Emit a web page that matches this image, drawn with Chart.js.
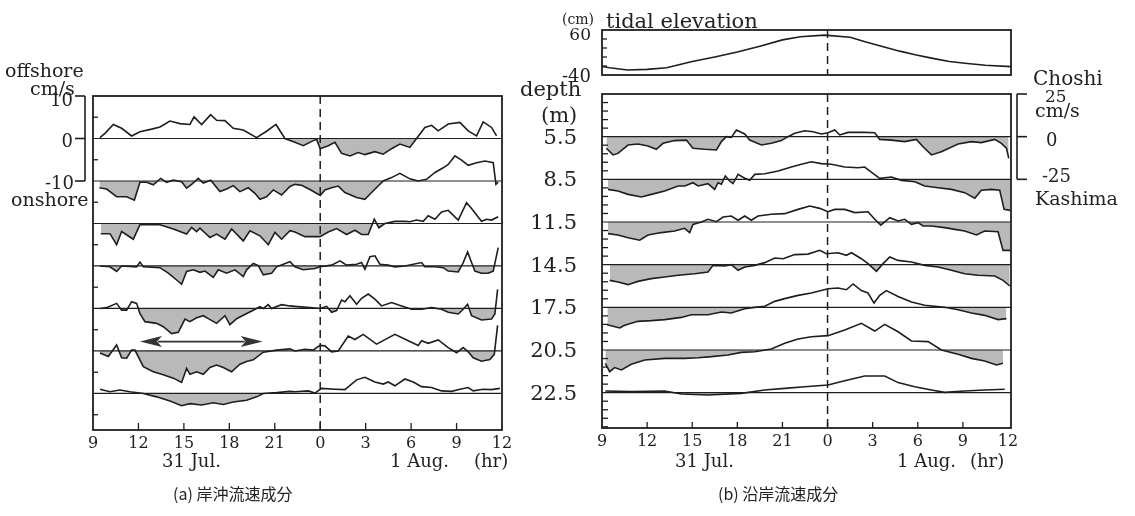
<!DOCTYPE html>
<html>
<head>
<meta charset="utf-8">
<script src="https://cdn.jsdelivr.net/npm/chart.js@4.4.1/dist/chart.umd.min.js"></script>
<style>
  html, body { margin: 0; padding: 0; background: #fff; }
  #page { position: relative; width: 1135px; height: 516px; overflow: hidden; font-family: "DejaVu Serif", serif; color: #222; }
  canvas { position: absolute; top: 0; }
  .lbl { position: absolute; white-space: nowrap; line-height: 1; transform: translateY(-50%); }
  .cap { font-family: "Noto Sans CJK JP", sans-serif; font-size: 16px; }
</style>
</head>
<body>
<div id="page">
  <canvas id="cross" width="540" height="516" style="left:0"></canvas>
  <canvas id="tide" width="595" height="100" style="left:540px"></canvas>
  <canvas id="along" width="595" height="516" style="left:540px"></canvas>
</div>
<script>
// time axis: hours from 0:00 on 31 Jul. (24 = 0:00 on 1 Aug.)
const hourTicks = [9, 12, 15, 18, 21, 24, 27, 30, 33, 36];
const midnight = 24;

// (a) cross-shore component, cm/s, [hour, value]
const cross55 = [[9.46,0.2],[9.79,1.2],[10.34,3.3],[10.89,2.4],[11.55,0.6],[12.10,1.6],[12.87,2.2],[13.42,2.7],[14.08,4.1],[14.74,3.5],[15.40,3.3],[15.67,5.1],[16.17,3.3],[16.77,5.6],[17.16,4.3],[17.71,4.2],[18.26,2.4],[18.92,2.0],[19.80,0.2],[20.46,1.7],[21.08,3.3],[21.67,0],[22.33,-0.9],[22.88,-1.7],[23.54,-0.5],[23.76,-0.2],[24.0,-2.4],[24.53,-1.7],[24.97,-0.9],[25.41,-3.5],[25.96,-4.1],[26.51,-3.3],[26.95,-3.8],[27.61,-3.1],[28.16,-3.7],[28.71,-2.4],[29.26,-1.3],[29.92,-2.1],[30.36,0],[30.91,2.6],[31.35,3.1],[31.79,1.8],[32.45,3.4],[33.22,3.8],[33.77,1.8],[34.32,0.6],[34.76,3.9],[35.31,2.6],[35.64,0.6]];
const cross85 = [[9.42,-1.6],[9.90,-1.9],[10.56,-3.7],[11.22,-3.7],[11.73,-4.5],[12.10,-0.3],[12.54,-0.3],[12.98,-0.9],[13.47,0.6],[13.86,-0.3],[14.30,0.2],[14.85,-0.2],[15.18,-1.7],[15.51,-0.8],[15.95,0.6],[16.28,-0.5],[16.77,0.2],[17.38,-2.5],[17.82,-1.9],[18.26,-1.1],[18.70,-2.5],[19.25,-1.6],[19.69,-2.9],[20.02,-4.3],[20.46,-3.7],[20.90,-2.1],[21.45,-3.3],[22.0,-1.3],[22.33,-0.8],[22.77,-1.0],[23.32,-2.0],[24.0,-3.4],[24.31,-2.1],[24.75,-1.6],[25.19,-1.2],[25.63,-2.7],[26.40,-3.9],[26.95,-4.3],[27.39,-2.7],[28.16,0],[28.71,0.8],[29.26,1.8],[29.92,0.5],[30.47,0],[31.02,0.4],[31.57,2.0],[32.12,3.1],[32.45,3.9],[32.89,5.9],[33.33,4.9],[33.77,3.7],[34.32,4.3],[34.87,4.7],[35.42,4.3],[35.60,-0.8],[35.75,-0.3]];
const cross115 = [[9.51,-2.4],[10.12,-2.4],[10.56,-5.0],[10.89,-1.9],[11.66,-3.7],[12.10,-0.3],[12.65,-0.2],[13.42,-0.3],[14.30,-1.3],[15.18,-2.5],[15.51,-0.9],[15.84,-1.9],[16.06,-1.1],[16.72,-3.3],[17.16,-2.5],[17.71,-3.7],[18.15,-1.3],[18.92,-4.1],[19.36,-1.7],[20.02,-2.9],[20.57,-5.0],[21.01,-2.1],[21.45,-3.7],[22.0,-1.7],[22.33,-2.0],[22.99,-3.1],[23.98,-3.1],[24.53,-2.0],[25.08,-1.2],[25.74,-2.6],[26.29,-1.6],[26.73,-2.6],[27.17,-2.6],[27.57,1.0],[27.87,-1.0],[28.27,0],[28.93,0.5],[29.59,0.5],[29.92,0.4],[30.36,0.8],[30.80,0.5],[31.13,1.8],[31.57,1.0],[32.01,2.7],[32.45,3.1],[33.11,0.8],[33.66,4.9],[33.99,3.5],[34.32,2.0],[34.65,0.5],[34.98,1.0],[35.31,0.8],[35.75,1.6]];
const cross145 = [[9.46,0],[10.12,-0.2],[10.56,-1.3],[10.89,0],[11.88,-0.2],[12.10,0.9],[12.32,-0.2],[13.42,-0.4],[13.97,-1.7],[14.52,-3.3],[14.85,-4.3],[15.18,-1.3],[15.62,-0.9],[16.06,-1.5],[16.39,-1.2],[16.94,-2.7],[17.27,-0.9],[17.82,-1.7],[18.37,-0.9],[18.92,-2.5],[19.14,-0.9],[19.58,0.6],[19.91,0.1],[20.24,-2.1],[20.79,-1.7],[21.12,-0.2],[22.0,1.0],[22.33,-0.2],[22.88,-0.9],[23.65,-0.6],[23.98,-0.2],[24.75,0.2],[25.30,1.2],[25.74,0.2],[26.40,0.4],[26.73,0.8],[26.95,-0.8],[27.28,2.2],[27.61,2.4],[27.94,0.4],[28.49,0.2],[28.93,-0.2],[29.59,0],[30.69,0.8],[30.91,-0.2],[31.57,-0.2],[32.12,-0.4],[32.45,-1.2],[33.11,-1.4],[33.44,0.8],[33.73,3.3],[33.99,0.8],[34.21,-1.2],[34.65,-1.7],[35.09,-1.7],[35.42,-1.2],[35.75,4.3]];
const cross175 = [[9.46,0],[9.90,0.2],[10.56,1.2],[10.89,-0.4],[11.22,-0.4],[11.55,1.6],[11.88,1.2],[12.10,-1.2],[12.43,-3.1],[13.20,-3.5],[13.64,-4.3],[14.19,-5.9],[14.63,-5.6],[15.07,-2.5],[15.40,-3.1],[15.84,-2.2],[16.28,-1.7],[16.61,-2.4],[17.16,-3.5],[17.71,-1.7],[18.04,-3.8],[18.48,-2.4],[18.92,-1.6],[19.58,-0.4],[20.02,0.4],[20.24,0],[20.57,0.9],[20.79,0],[21.45,0.9],[22.0,0.6],[22.33,0.5],[23.32,0.2],[23.98,0],[24.42,0.5],[24.75,-0.9],[25.08,-0.5],[25.41,2.0],[25.63,1.6],[25.96,3.0],[26.40,1.0],[26.73,2.4],[27.17,3.4],[27.61,2.2],[28.05,0.6],[28.71,1.4],[29.37,0.6],[30.03,-0.2],[30.69,-0.2],[31.35,0.2],[32.01,-0.2],[32.45,-0.9],[33.11,-1.3],[33.44,-0.2],[33.73,1.0],[33.99,-1.7],[34.65,-2.7],[35.31,-2.5],[35.53,-1.3],[35.71,4.5]];
const cross205 = [[9.46,-0.5],[10.01,-1.3],[10.56,1.4],[10.89,-1.6],[11.22,-1.7],[11.55,0.2],[11.77,0.2],[12.32,-3.7],[12.98,-4.9],[13.64,-5.6],[14.30,-6.4],[14.85,-7.4],[15.18,-4.1],[15.40,-5.5],[15.84,-4.9],[16.28,-5.5],[16.72,-3.9],[17.16,-3.3],[17.60,-3.9],[18.15,-4.9],[18.70,-3.1],[19.14,-2.5],[19.58,-2.1],[20.24,-0.3],[21.12,0.2],[22.0,0.5],[22.33,0],[22.99,0.4],[23.54,0.2],[23.98,1.3],[24.31,1.2],[24.75,-0.2],[25.19,0],[25.85,3.5],[26.29,2.7],[26.84,3.9],[27.72,1.6],[28.93,3.9],[29.81,2.4],[30.47,1.3],[30.69,2.4],[31.13,1.8],[31.79,2.6],[32.45,0.8],[33.0,-0.4],[33.44,0.8],[33.77,-0.2],[34.10,-1.6],[34.65,-2.4],[35.20,-2.0],[35.49,-0.8],[35.71,6.0]];
const cross225 = [[9.46,1.0],[10.12,0.4],[10.78,0.8],[11.44,0.4],[12.32,0],[13.20,-0.8],[14.08,-1.8],[14.85,-2.9],[15.40,-2.4],[16.17,-2.7],[16.94,-2.2],[17.60,-2.6],[18.26,-2.0],[19.14,-1.6],[19.80,-0.8],[20.24,0],[21.12,0.2],[22.0,0.5],[22.33,0.4],[23.21,0.6],[23.65,0.1],[24.09,1.2],[24.97,1.0],[25.63,0.9],[26.40,3.2],[26.95,3.8],[27.61,2.7],[28.16,2.2],[28.49,2.7],[28.93,1.8],[29.59,3.4],[30.14,2.7],[30.69,1.6],[31.35,1.4],[32.01,0.6],[32.67,0.5],[33.22,1.0],[33.77,1.4],[34.10,0.6],[34.76,1.0],[35.31,0.9],[35.86,1.2]];

// (b) along-shore component, cm/s (+ = toward Choshi)
const along55 = [[9.29,-6.8],[9.73,-10.7],[10.06,-9.8],[10.73,-4.9],[11.39,-4.3],[12.06,-5.5],[12.61,-7.4],[13.06,-3.9],[13.83,-2.3],[14.61,-2.0],[15.05,-6.8],[15.83,-7.4],[16.61,-7.8],[16.94,-2.9],[17.27,0],[17.60,-0.4],[17.94,3.9],[18.49,1.6],[18.82,-2.0],[19.60,-4.9],[20.26,-3.9],[20.93,-2.3],[21.37,0],[21.82,2.0],[22.48,3.5],[23.04,2.9],[23.59,1.6],[24.03,2.3],[24.48,3.9],[24.81,1.0],[25.36,2.5],[26.47,2.5],[27.14,2.3],[27.47,-1.6],[28.25,-2.0],[29.13,-2.9],[29.91,-1.6],[30.35,-5.9],[30.91,-10.7],[31.57,-8.8],[32.68,-4.3],[33.57,-2.9],[34.23,-3.5],[35.12,-1.6],[35.56,-3.9],[35.90,-6.8],[36.05,-12.7]];
const along85 = [[9.40,-5.9],[10.06,-6.8],[10.73,-8.8],[11.62,-10.3],[12.28,-8.8],[13.17,-6.8],[14.06,-3.9],[14.50,-3.9],[15.05,-2.0],[15.39,-3.9],[16.05,-2.5],[16.49,-5.9],[16.72,-2.0],[16.94,-2.9],[17.20,2.0],[17.49,-1.0],[17.71,-2.5],[18.05,2.9],[18.49,0.6],[18.82,-0.6],[19.16,2.9],[19.82,3.3],[20.71,4.9],[21.59,7.2],[22.26,8.8],[22.92,10.3],[23.59,9.2],[24.25,8.8],[25.14,7.2],[26.03,6.8],[26.47,7.2],[26.80,4.9],[27.47,0.6],[28.25,1.4],[28.91,-0.6],[29.80,-1.4],[30.46,-3.9],[31.35,-4.9],[32.24,-5.9],[33.12,-7.8],[33.79,-11.1],[34.23,-6.4],[34.90,-5.9],[35.45,-6.4],[35.74,-17.6],[36.15,-18.2]];
const along115 = [[9.40,-6.8],[10.06,-7.6],[10.73,-9.2],[11.51,-10.7],[12.06,-7.6],[12.95,-6.2],[13.83,-5.3],[14.50,-3.7],[14.83,-6.2],[15.05,-1.4],[15.61,0],[16.05,1.6],[16.61,0.2],[17.05,2.9],[17.60,3.5],[18.05,1.0],[18.49,3.5],[18.93,1.0],[19.38,3.5],[20.26,4.5],[21.15,4.9],[22.04,7.4],[22.81,9.4],[23.48,8.0],[24.03,6.0],[24.48,7.4],[25.14,7.4],[25.81,5.5],[26.69,6.0],[27.14,1.6],[27.54,-1.8],[28.14,2.5],[28.69,0.6],[29.13,1.6],[29.58,-1.4],[30.02,-0.4],[30.35,-2.3],[30.91,-2.3],[31.79,-3.3],[32.46,-4.3],[33.12,-5.3],[33.90,-7.6],[34.45,-5.3],[35.34,-5.7],[35.67,-16.6],[36.15,-16.6]];
const along145 = [[9.51,-9.2],[10.06,-10.2],[10.73,-11.7],[11.39,-9.8],[12.28,-8.2],[13.17,-7.2],[14.06,-6.2],[15.16,-5.3],[16.05,-4.3],[16.38,-0.4],[17.16,-0.8],[17.60,0],[18.05,-3.3],[18.49,-1.4],[19.16,-0.4],[19.82,1.2],[20.49,3.9],[21.04,3.5],[21.82,5.9],[22.70,6.2],[23.48,8.4],[23.92,6.4],[24.70,7.0],[25.25,5.5],[25.59,7.0],[26.25,3.5],[26.69,0.6],[27.25,-3.9],[27.69,0.6],[28.14,4.5],[28.69,2.5],[29.58,1.6],[30.46,-0.4],[31.35,-1.4],[32.24,-3.3],[33.12,-5.3],[34.01,-6.2],[35.12,-6.6],[35.67,-9.2],[36.12,-12.5]];
const along175 = [[9.35,-10.2],[10.18,-12.1],[10.51,-10.5],[11.39,-8.2],[12.28,-7.8],[13.17,-7.2],[14.28,-5.9],[14.94,-4.3],[16.05,-4.3],[16.94,-2.7],[17.60,-3.3],[18.49,-0.8],[19.16,0],[19.82,0.6],[20.49,3.5],[21.15,5.1],[22.04,7.0],[22.92,8.4],[24.03,10.9],[24.70,11.3],[25.25,10.3],[25.70,13.7],[26.25,9.8],[26.69,8.4],[27.09,2.5],[27.47,7.0],[27.91,9.8],[28.69,6.4],[29.58,3.1],[30.46,1.2],[31.79,0],[32.68,-1.4],[33.57,-3.3],[34.45,-4.7],[35.34,-7.2],[35.90,-6.6]];
const along205 = [[9.22,-7.8],[9.51,-12.7],[9.84,-10.3],[10.29,-11.7],[10.95,-8.4],[11.84,-5.9],[13.17,-4.9],[14.50,-4.9],[15.39,-4.5],[16.27,-3.9],[17.38,-2.9],[18.27,-1.4],[19.16,-1.0],[20.26,0.6],[21.15,3.9],[22.04,6.4],[22.92,7.8],[24.03,8.4],[25.14,11.7],[26.25,15.6],[27.14,11.1],[27.80,15.0],[28.69,10.7],[29.58,5.3],[30.69,4.9],[31.57,0],[32.68,-2.5],[33.57,-4.9],[34.45,-6.4],[35.23,-8.8],[35.67,-7.8]];
const along225 = [[9.22,1.0],[10.95,0.6],[13.17,1.0],[14.28,-0.8],[16.05,-1.4],[18.27,-0.4],[19.82,1.6],[21.15,2.5],[22.48,3.5],[24.03,4.5],[25.14,7.0],[26.47,9.8],[27.80,9.8],[28.69,5.9],[29.80,3.5],[30.91,1.6],[31.79,0.2],[33.12,1.0],[34.45,1.6],[35.78,2.0]];

// tidal elevation, cm
const tide = [[9,-21],[9.5,-24],[10.7,-29],[12,-27.5],[13.3,-24],[15,-10],[16.5,0],[18,11],[19.5,24],[21,38],[22.2,45],[23.8,48.5],[25.5,44],[26.5,34],[27.7,23],[28.8,13],[29.9,4.5],[31,-3],[32.1,-10],[33.3,-14.5],[34.5,-18.5],[36.2,-21.5]];

// stacking: each depth drawn around its own zero line
const depthLabels = ['5.5', '8.5', '11.5', '14.5', '17.5', '20.5', '22.5'];
const crossBase = [0, -10, -20, -30, -40, -50, -60];
const alongBase = [0, -25, -50, -75, -100, -125, -150];
const crossMinor = [5, -5, -15, -25, -35, -45, -55, -65];
const tideMinor = [40, 20, 0, -20];
const crossScale = [10, 0, -10];
const alongScale = [25, 0, -25];
const arrowSpan = [12.1, 20.2];
const arrowLevel = -47.8;

const INK = '#1e1e1e';
const SHADE = '#b9b9b9';

function seg(ctx, x1, y1, x2, y2) {
  ctx.beginPath(); ctx.moveTo(x1, y1); ctx.lineTo(x2, y2); ctx.stroke();
}

function arrowHead(ctx, tipX, y, dir) {
  ctx.beginPath();
  ctx.moveTo(tipX, y);
  ctx.lineTo(tipX + dir * 22, y - 5.5);
  ctx.lineTo(tipX + dir * 17, y);
  ctx.lineTo(tipX + dir * 22, y + 5.5);
  ctx.closePath();
  ctx.fill();
}

function decor(cfg) {
  return {
    id: 'decor',
    afterDatasetsDraw(chart) {
      const { ctx, chartArea: a } = chart;
      const x = chart.scales.x, y = chart.scales.y;
      ctx.save();
      ctx.strokeStyle = INK;
      ctx.fillStyle = INK;
      ctx.lineWidth = 1.2;
      (cfg.lines || []).forEach(b => {
        const py = y.getPixelForValue(b);
        seg(ctx, a.left, py, a.right, py);
      });
      ctx.lineWidth = 1.3;
      cfg.minor.forEach(v => {
        const py = y.getPixelForValue(v);
        seg(ctx, a.left, py, a.left + cfg.tickLen, py);
      });
      if (cfg.showX) {
        hourTicks.slice(1, -1).forEach(h => {
          const px = x.getPixelForValue(h);
          seg(ctx, px, a.bottom, px, a.bottom - cfg.xTickLen);
        });
      }
      ctx.setLineDash([8, 5]);
      ctx.lineWidth = 1.5;
      const dx = x.getPixelForValue(midnight);
      seg(ctx, dx, a.top, dx, a.bottom);
      ctx.setLineDash([]);
      ctx.lineWidth = 1.8;
      ctx.strokeRect(a.left, a.top, a.right - a.left, a.bottom - a.top);
      if (cfg.bracket) {
        const b = cfg.bracket;
        const bx = b.side < 0 ? a.left - 8 : a.right + 6;
        ctx.lineWidth = 1.6;
        seg(ctx, bx, y.getPixelForValue(b.vals[0]), bx, y.getPixelForValue(b.vals[b.vals.length - 1]));
        b.vals.forEach(v => {
          const py = y.getPixelForValue(v);
          seg(ctx, bx, py, bx + b.side * 10, py);
        });
      }
      if (cfg.arrow) {
        const ay = y.getPixelForValue(arrowLevel);
        const x1 = x.getPixelForValue(arrowSpan[0]), x2 = x.getPixelForValue(arrowSpan[1]);
        ctx.fillStyle = '#333';
        ctx.strokeStyle = '#333';
        ctx.lineWidth = 1.6;
        seg(ctx, x1 + 18, ay, x2 - 18, ay);
        arrowHead(ctx, x1, ay, 1);
        arrowHead(ctx, x2, ay, -1);
      }
      ctx.restore();
    }
  };
}

function makePanel(id, cfg) {
  const datasets = cfg.series.map((pts, i) => ({
    data: pts.map(p => ({ x: p[0], y: cfg.offsets[i] + p[1] })),
    borderColor: INK,
    borderWidth: 1.6,
    pointRadius: 0,
    tension: 0,
    fill: cfg.shade ? { target: { value: cfg.offsets[i] }, above: 'rgba(0,0,0,0)', below: SHADE } : false
  }));
  return new Chart(document.getElementById(id), {
    type: 'line',
    data: { datasets },
    options: {
      responsive: false,
      animation: false,
      events: [],
      layout: { padding: cfg.pad },
      plugins: { legend: { display: false }, tooltip: { enabled: false } },
      scales: {
        x: {
          type: 'linear', min: 9, max: cfg.xMax, display: cfg.showX,
          grid: { display: false, drawTicks: false },
          border: { display: false },
          afterBuildTicks: s => { s.ticks = hourTicks.map(v => ({ value: v })); },
          afterFit: s => { s.height = cfg.showX ? 40 : 0; },
          ticks: {
            autoSkip: false, maxRotation: 0, padding: 4, color: INK,
            font: { family: 'DejaVu Serif', size: 16 },
            callback: v => String(v % 24)
          }
        },
        y: { type: 'linear', min: cfg.yMin, max: cfg.yMax, display: false }
      }
    },
    plugins: [decor(cfg)]
  });
}

const alongMinor = [];
for (let v = 20; v >= -170; v -= 5) if (v % 25 !== 0) alongMinor.push(v);

makePanel('cross', {
  series: [cross55, cross85, cross115, cross145, cross175, cross205, cross225],
  offsets: crossBase, lines: crossBase, shade: true,
  xMax: 36, yMin: -68.6, yMax: 10, showX: true,
  pad: { left: 93, right: 38, top: 96, bottom: 46 },
  minor: crossMinor, tickLen: 5, xTickLen: 7,
  bracket: { vals: crossScale, side: -1 }, arrow: true
});

makePanel('tide', {
  series: [tide], offsets: [0], lines: [], shade: false,
  xMax: 36.2, yMin: -40, yMax: 60, showX: false,
  pad: { left: 62, right: 124, top: 30, bottom: 25 },
  minor: tideMinor, tickLen: 5, xTickLen: 0
});

const alongChart = makePanel('along', {
  series: [along55, along85, along115, along145, along175, along205, along225],
  offsets: alongBase, lines: alongBase, shade: true,
  xMax: 36.2, yMin: -170.7, yMax: 25, showX: true,
  pad: { left: 62, right: 124, top: 94, bottom: 48 },
  minor: alongMinor, tickLen: 6, xTickLen: 6,
  bracket: { vals: alongScale, side: 1 }
});

// text annotations
const page = document.getElementById('page');
function note(text, x, y, size, right, cls) {
  const d = document.createElement('div');
  d.className = 'lbl' + (cls ? ' ' + cls : '');
  d.textContent = text;
  d.style.top = y + 'px';
  if (right) d.style.right = (1135 - x) + 'px'; else d.style.left = x + 'px';
  if (size) d.style.fontSize = size + 'px';
  page.appendChild(d);
}

note('offshore', 5, 70, 19);
note('cm/s', 30, 88, 19);
note('10', 73, 100, 18, true);
note('0', 73, 141, 18, true);
note('-10', 74, 183, 18, true);
note('onshore', 11, 199, 19);
note('31 Jul.', 162, 461, 18);
note('1 Aug.', 390, 461, 18);
note('(hr)', 474, 461, 18);

note('(cm)', 562, 19, 14);
note('tidal elevation', 606, 21, 21);
note('60', 591, 34, 17, true);
note('-40', 591, 76, 18, true);
note('depth', 520, 89, 21);
note('(m)', 541, 115, 21);
const ys = alongChart.scales.y;
depthLabels.forEach((t, i) => note(t, 577, Math.round(ys.getPixelForValue(alongBase[i])), 21, true));
note('Choshi', 1033, 78, 20);
note('25', 1045, 96, 17);
note('cm/s', 1035, 110, 19);
note('0', 1046, 140, 18);
note('-25', 1042, 176, 18);
note('Kashima', 1035, 198, 19);
note('31 Jul.', 675, 461, 18);
note('1 Aug.', 897, 461, 18);
note('(hr)', 970, 461, 18);

note('(a) 岸沖流速成分', 173, 493, 0, false, 'cap');
note('(b) 沿岸流速成分', 718, 493, 0, false, 'cap');
</script>
</body>
</html>
